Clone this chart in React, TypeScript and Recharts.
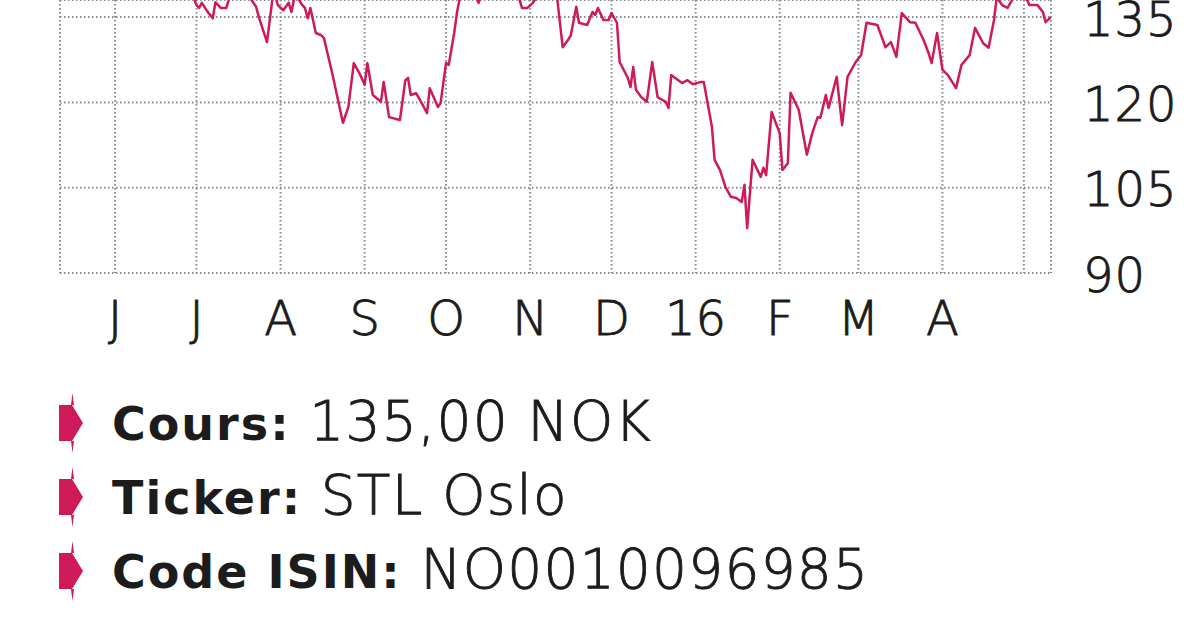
import React from 'react';
import { LineChart, Line, XAxis, YAxis, CartesianGrid } from 'recharts';

// days counted from 1 June 2015
const days = [
  -20, -17, -14, -11, -8, -5, -2, 1, 4, 7, 10, 13, 16, 19, 22, 25, 27,
  29, 30, 31, 32, 34, 36, 37, 39, 41, 42, 44, 46, 48, 50, 52, 53, 56, 58, 59,
  60, 62, 64, 65, 66, 67, 69, 70, 71, 72, 74, 76, 77, 80, 84, 86, 88, 90, 92,
  93, 95, 98, 99, 101, 105, 107, 108, 109, 111, 113, 115, 116, 119, 120, 122,
  123, 125, 126, 127, 130, 134, 136, 140, 144, 147, 149, 150, 152, 154, 155,
  158, 161, 163, 165, 167, 168, 170, 171, 174, 176, 177, 178, 180, 182, 183,
  185, 186, 189, 190, 191, 192, 194, 196, 198, 200, 203, 204, 205, 209, 211,
  213, 216, 217, 220, 221, 223, 225, 227, 229, 231, 232, 233, 235, 238, 239,
  240, 242, 245, 246, 248, 249, 252, 255, 257, 259, 260, 262, 263, 266, 268,
  270, 273, 275, 277, 281, 284, 286, 288, 290, 293, 295, 298, 300, 301, 303,
  305, 307, 310, 312, 315, 317, 320, 322, 324, 325, 327, 329, 331, 333, 336,
  337, 340, 342, 343, 345,
];

const prices = [
  149, 151, 147, 150, 152, 148, 150, 146, 148, 144, 147, 143, 145, 142, 144, 141, 140.5,
  138.4, 137.1, 136.6, 137.5, 136, 134.8, 137.6, 136.6, 136.6, 138.2, 140, 141, 139.5, 138.2, 136.8, 135, 130.6, 138.2, 138.8,
  137.1, 136.2, 137.5, 135.9, 138.2, 138.6, 137.1, 136.6, 134.8, 136.6, 132.2, 131.8, 131.3, 125.2, 116.4, 119.2, 126.9, 125.2, 123.1,
  126.9, 121.3, 120.1, 123.6, 117.4, 116.9, 123.9, 124.3, 121.3, 121.6, 119.9, 118.1, 122.5, 119.2, 119.9, 126.9,
  126.6, 132.2, 135.7, 138.2, 141.5, 137.5, 140.6, 143.3, 142.4, 139.8, 138.2, 136.6, 136.6, 137.5, 138.2,
  139.8, 138.9, 138.2, 129.7, 131, 131.8, 136.8, 134, 133.6, 135.9, 135.4, 136.6, 134.5, 134.5, 135.7,
  134, 127.1, 124.3, 122.7, 126.2, 122.2, 120.9, 120.1, 127.1, 120.9, 120.1, 119, 124.8, 123.4, 123.9,
  123.2, 123.6, 123.6, 115.7, 109.9, 108.1, 105.1, 103.4, 103.2, 102.5, 105.5, 97.9, 109.9, 106.9, 108.5,
  107.2, 118.3, 114.6, 108.1, 109.3, 121.7, 118.7, 110.8, 114.6, 117.4, 117.3, 121.3, 119, 124.5, 116,
  124.5, 127.1, 128.3, 134, 133.6, 129.7, 130.6, 128, 135.7, 134.1, 134, 131, 128.5, 126.9, 132.2,
  125.7, 124.8, 122.5, 126.6, 128.3, 133.1, 130.4, 129.6, 134.5, 138.5, 137.1, 136.6, 138.3, 139.8, 138.2,
  137.1, 137.1, 135.9, 134.1, 135,
];

const monthTicks = [0, 30, 61, 92, 122, 153, 183, 214, 245, 274, 305, 335];
const monthLabels = ['J', 'J', 'A', 'S', 'O', 'N', 'D', '16', 'F', 'M', 'A', ''];
const priceTicks = [90, 105, 120, 135];

const infoLabels = ['Cours:', 'Ticker:', 'Code ISIN:'];
const infoValues = ['135,00 NOK', 'STL Oslo', 'NO0010096985'];

const data = days.map((d, i) => ({ day: d, price: prices[i] }));

const PINK = '#cf1a5a';
const INK = '#1c1c1c';
const FONT = '"DejaVu Sans", sans-serif';

// thin face, thickened a little with a stroke
const lightText = { fontFamily: FONT, fontWeight: 200, fill: INK, stroke: INK, strokeWidth: 0.9 };

const MonthTick = (props: any) => {
  const { x, y, payload } = props;
  const idx = monthTicks.indexOf(payload.value);
  return (
    <text x={x} y={y + 62} textAnchor="middle" fontSize={48} {...lightText}>
      {monthLabels[idx]}
    </text>
  );
};

const PriceTick = (props: any) => {
  const { x, y, payload } = props;
  return (
    <text x={x + 32} y={y + 18.5} textAnchor="start" fontSize={48} letterSpacing={1} {...lightText}>
      {payload.value}
    </text>
  );
};

const Marker = ({ cy }: { cy: number }) => (
  <g fill={PINK}>
    <polygon points={`59,${cy - 18} 72,${cy - 18} 83,${cy} 72,${cy + 18} 59,${cy + 18}`} />
    <polygon points={`71,${cy - 18} 72.5,${cy - 30} 74,${cy - 18}`} />
    <polygon points={`71,${cy + 18} 72.5,${cy + 30} 74,${cy + 18}`} />
  </g>
);

const App: React.FC = () => {
  return (
    <div style={{ position: 'absolute', left: 0, top: 0, width: 1200, height: 627, overflow: 'hidden', background: '#fff' }}>
      <LineChart width={1200} height={350} data={data} margin={{ top: 0, right: 0, left: 60, bottom: 0 }}>
        <CartesianGrid stroke="#8a8a8a" strokeWidth={2} strokeDasharray="1.5 2.5" />
        <XAxis
          dataKey="day"
          type="number"
          domain={[-20.3, 345]}
          allowDataOverflow
          ticks={monthTicks}
          height={77}
          tickLine={false}
          axisLine={false}
          tickSize={0}
          tickMargin={0}
          tick={<MonthTick />}
          interval={0}
        />
        <YAxis
          orientation="right"
          type="number"
          domain={[90, 138]}
          allowDataOverflow
          ticks={priceTicks}
          width={149}
          tickLine={false}
          axisLine={false}
          tickSize={0}
          tickMargin={0}
          tick={<PriceTick />}
          interval={0}
        />
        <Line
          type="linear"
          dataKey="price"
          stroke={PINK}
          strokeWidth={2.5}
          strokeLinejoin="round"
          dot={false}
          activeDot={false}
          isAnimationActive={false}
        />
      </LineChart>

      <svg width={1200} height={257} style={{ position: 'absolute', left: 0, top: 370 }}>
        {infoLabels.map((label, i) => {
          const base = 70 + i * 74;
          return (
            <g key={label}>
              <Marker cy={base - 17} />
              <text x={112} y={base} fontFamily={FONT} fill={INK}>
                <tspan fontWeight={700} fontSize={46} letterSpacing={2}>{label}</tspan>
                <tspan fontSize={55} letterSpacing={1.2} {...lightText}>{' ' + infoValues[i]}</tspan>
              </text>
            </g>
          );
        })}
      </svg>
    </div>
  );
};

export default App;
